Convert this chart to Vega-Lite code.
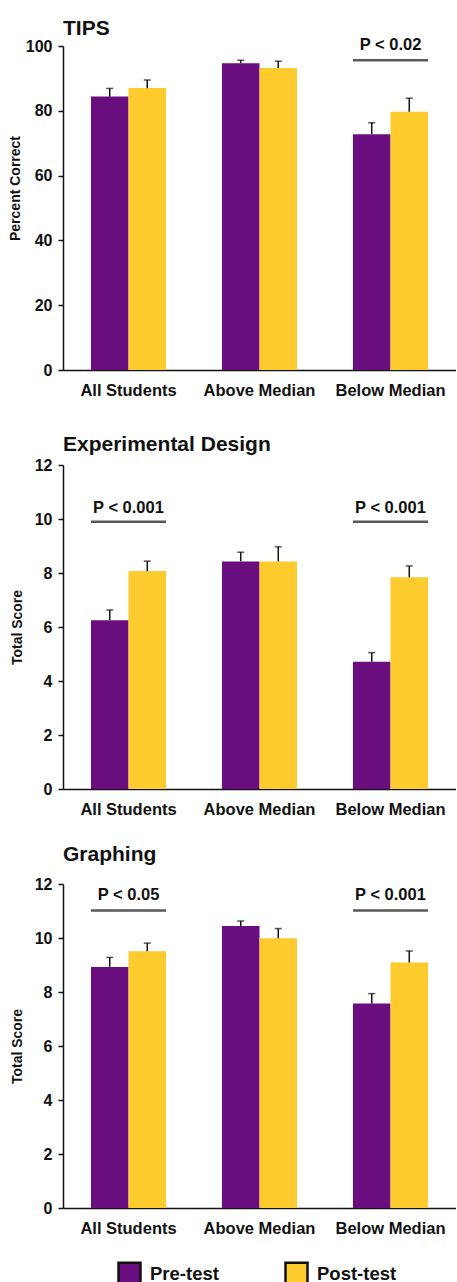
{
  "$schema": "https://vega.github.io/schema/vega-lite/v6.json",
  "padding": {"left": 8, "top": 17, "right": 0, "bottom": 0},
  "bounds": "flush",
  "spacing": 95,
  "datasets": {
    "bars": [
      {"panel": "TIPS", "group": "All Students", "test": "Pre-test", "value": 84.4, "err": 86.9},
      {"panel": "TIPS", "group": "All Students", "test": "Post-test", "value": 87.0, "err": 89.5},
      {"panel": "TIPS", "group": "Above Median", "test": "Pre-test", "value": 94.7, "err": 95.6},
      {"panel": "TIPS", "group": "Above Median", "test": "Post-test", "value": 93.2, "err": 95.3},
      {"panel": "TIPS", "group": "Below Median", "test": "Pre-test", "value": 72.8, "err": 76.3},
      {"panel": "TIPS", "group": "Below Median", "test": "Post-test", "value": 79.7, "err": 83.9},
      {"panel": "ED", "group": "All Students", "test": "Pre-test", "value": 6.25, "err": 6.63},
      {"panel": "ED", "group": "All Students", "test": "Post-test", "value": 8.07, "err": 8.44},
      {"panel": "ED", "group": "Above Median", "test": "Pre-test", "value": 8.43, "err": 8.77},
      {"panel": "ED", "group": "Above Median", "test": "Post-test", "value": 8.43, "err": 8.97},
      {"panel": "ED", "group": "Below Median", "test": "Pre-test", "value": 4.71, "err": 5.05},
      {"panel": "ED", "group": "Below Median", "test": "Post-test", "value": 7.84, "err": 8.26},
      {"panel": "GR", "group": "All Students", "test": "Pre-test", "value": 8.93, "err": 9.28},
      {"panel": "GR", "group": "All Students", "test": "Post-test", "value": 9.51, "err": 9.81},
      {"panel": "GR", "group": "Above Median", "test": "Pre-test", "value": 10.44, "err": 10.63},
      {"panel": "GR", "group": "Above Median", "test": "Post-test", "value": 9.99, "err": 10.35},
      {"panel": "GR", "group": "Below Median", "test": "Pre-test", "value": 7.57, "err": 7.94},
      {"panel": "GR", "group": "Below Median", "test": "Post-test", "value": 9.09, "err": 9.52}
    ],
    "notes": [
      {"panel": "TIPS", "group": "Below Median", "label": "P < 0.02", "yline": 95.6, "ytext": 98.9},
      {"panel": "ED", "group": "All Students", "label": "P < 0.001", "yline": 9.9, "ytext": 10.24},
      {"panel": "ED", "group": "Below Median", "label": "P < 0.001", "yline": 9.9, "ytext": 10.24},
      {"panel": "GR", "group": "All Students", "label": "P < 0.05", "yline": 11.02, "ytext": 11.41},
      {"panel": "GR", "group": "Below Median", "label": "P < 0.001", "yline": 11.02, "ytext": 11.41}
    ]
  },
  "vconcat": [
    {
      "title": {"text": "TIPS", "offset": -2},
      "width": 393, "height": 324,
      "layer": [
        {
          "data": {"name": "bars"},
          "transform": [{"filter": "datum.panel === 'TIPS'"}],
          "mark": {"type": "bar"},
          "encoding": {
            "x": {"field": "group", "type": "nominal", "sort": ["All Students", "Above Median", "Below Median"], "scale": {"paddingInner": 0.427, "paddingOuter": 0.2135}, "axis": {"title": null, "labelAngle": 0, "ticks": false, "labelPadding": 12, "labelFontSize": 16.5}},
            "xOffset": {"field": "test", "type": "nominal", "sort": ["Pre-test", "Post-test"], "scale": {"paddingInner": 0, "paddingOuter": 0}},
            "y": {"field": "value", "type": "quantitative", "scale": {"domain": [0, 100]}, "axis": {"title": "Percent Correct", "values": [0, 20, 40, 60, 80, 100], "titleY": 142, "titleX": -41}},
            "color": {"field": "test", "type": "nominal", "sort": ["Pre-test", "Post-test"], "scale": {"domain": ["Pre-test", "Post-test"], "range": ["#6A0D7E", "#FDCB2E"]}, "legend": {"title": null}}
          }
        },
        {
          "data": {"name": "bars"},
          "transform": [{"filter": "datum.panel === 'TIPS'"}],
          "mark": {"type": "rule", "color": "#111111", "strokeWidth": 1.5},
          "encoding": {
            "x": {"field": "group", "type": "nominal", "sort": ["All Students", "Above Median", "Below Median"]},
            "xOffset": {"field": "test", "type": "nominal", "sort": ["Pre-test", "Post-test"]},
            "y": {"field": "value", "type": "quantitative"},
            "y2": {"field": "err"}
          }
        },
        {
          "data": {"name": "bars"},
          "transform": [{"filter": "datum.panel === 'TIPS'"}],
          "mark": {"type": "tick", "color": "#111111", "thickness": 1.5, "size": 7},
          "encoding": {
            "x": {"field": "group", "type": "nominal", "sort": ["All Students", "Above Median", "Below Median"]},
            "xOffset": {"field": "test", "type": "nominal", "sort": ["Pre-test", "Post-test"]},
            "y": {"field": "err", "type": "quantitative"}
          }
        },
        {
          "data": {"name": "notes"},
          "transform": [{"filter": "datum.panel === 'TIPS'"}],
          "mark": {"type": "tick", "color": "#111111", "thickness": 2.6, "size": 75},
          "encoding": {
            "x": {"field": "group", "type": "nominal", "sort": ["All Students", "Above Median", "Below Median"]},
            "y": {"field": "yline", "type": "quantitative"}
          }
        },
        {
          "data": {"name": "notes"},
          "transform": [{"filter": "datum.panel === 'TIPS'"}],
          "mark": {"type": "text", "fontSize": 16.5, "fontWeight": "bold", "baseline": "alphabetic", "color": "#111111"},
          "encoding": {
            "x": {"field": "group", "type": "nominal", "sort": ["All Students", "Above Median", "Below Median"]},
            "y": {"field": "ytext", "type": "quantitative"},
            "text": {"field": "label"}
          }
        }
      ]
    },
    {
      "title": {"text": "Experimental Design", "offset": 2},
      "width": 393, "height": 324,
      "layer": [
        {
          "data": {"name": "bars"},
          "transform": [{"filter": "datum.panel === 'ED'"}],
          "mark": {"type": "bar"},
          "encoding": {
            "x": {"field": "group", "type": "nominal", "sort": ["All Students", "Above Median", "Below Median"], "scale": {"paddingInner": 0.427, "paddingOuter": 0.2135}, "axis": {"title": null, "labelAngle": 0, "ticks": false, "labelPadding": 12, "labelFontSize": 16.5}},
            "xOffset": {"field": "test", "type": "nominal", "sort": ["Pre-test", "Post-test"], "scale": {"paddingInner": 0, "paddingOuter": 0}},
            "y": {"field": "value", "type": "quantitative", "scale": {"domain": [0, 12]}, "axis": {"title": "Total Score", "values": [0, 2, 4, 6, 8, 10, 12]}},
            "color": {"field": "test", "type": "nominal", "sort": ["Pre-test", "Post-test"], "scale": {"domain": ["Pre-test", "Post-test"], "range": ["#6A0D7E", "#FDCB2E"]}, "legend": {"title": null}}
          }
        },
        {
          "data": {"name": "bars"},
          "transform": [{"filter": "datum.panel === 'ED'"}],
          "mark": {"type": "rule", "color": "#111111", "strokeWidth": 1.5},
          "encoding": {
            "x": {"field": "group", "type": "nominal", "sort": ["All Students", "Above Median", "Below Median"]},
            "xOffset": {"field": "test", "type": "nominal", "sort": ["Pre-test", "Post-test"]},
            "y": {"field": "value", "type": "quantitative"},
            "y2": {"field": "err"}
          }
        },
        {
          "data": {"name": "bars"},
          "transform": [{"filter": "datum.panel === 'ED'"}],
          "mark": {"type": "tick", "color": "#111111", "thickness": 1.5, "size": 7},
          "encoding": {
            "x": {"field": "group", "type": "nominal", "sort": ["All Students", "Above Median", "Below Median"]},
            "xOffset": {"field": "test", "type": "nominal", "sort": ["Pre-test", "Post-test"]},
            "y": {"field": "err", "type": "quantitative"}
          }
        },
        {
          "data": {"name": "notes"},
          "transform": [{"filter": "datum.panel === 'ED'"}],
          "mark": {"type": "tick", "color": "#111111", "thickness": 2.6, "size": 75},
          "encoding": {
            "x": {"field": "group", "type": "nominal", "sort": ["All Students", "Above Median", "Below Median"]},
            "y": {"field": "yline", "type": "quantitative"}
          }
        },
        {
          "data": {"name": "notes"},
          "transform": [{"filter": "datum.panel === 'ED'"}],
          "mark": {"type": "text", "fontSize": 16.5, "fontWeight": "bold", "baseline": "alphabetic", "color": "#111111"},
          "encoding": {
            "x": {"field": "group", "type": "nominal", "sort": ["All Students", "Above Median", "Below Median"]},
            "y": {"field": "ytext", "type": "quantitative"},
            "text": {"field": "label"}
          }
        }
      ]
    },
    {
      "title": {"text": "Graphing", "offset": 11},
      "width": 393, "height": 324,
      "layer": [
        {
          "data": {"name": "bars"},
          "transform": [{"filter": "datum.panel === 'GR'"}],
          "mark": {"type": "bar"},
          "encoding": {
            "x": {"field": "group", "type": "nominal", "sort": ["All Students", "Above Median", "Below Median"], "scale": {"paddingInner": 0.427, "paddingOuter": 0.2135}, "axis": {"title": null, "labelAngle": 0, "ticks": false, "labelPadding": 12, "labelFontSize": 16.5}},
            "xOffset": {"field": "test", "type": "nominal", "sort": ["Pre-test", "Post-test"], "scale": {"paddingInner": 0, "paddingOuter": 0}},
            "y": {"field": "value", "type": "quantitative", "scale": {"domain": [0, 12]}, "axis": {"title": "Total Score", "values": [0, 2, 4, 6, 8, 10, 12]}},
            "color": {"field": "test", "type": "nominal", "sort": ["Pre-test", "Post-test"], "scale": {"domain": ["Pre-test", "Post-test"], "range": ["#6A0D7E", "#FDCB2E"]}, "legend": {"title": null}}
          }
        },
        {
          "data": {"name": "bars"},
          "transform": [{"filter": "datum.panel === 'GR'"}],
          "mark": {"type": "rule", "color": "#111111", "strokeWidth": 1.5},
          "encoding": {
            "x": {"field": "group", "type": "nominal", "sort": ["All Students", "Above Median", "Below Median"]},
            "xOffset": {"field": "test", "type": "nominal", "sort": ["Pre-test", "Post-test"]},
            "y": {"field": "value", "type": "quantitative"},
            "y2": {"field": "err"}
          }
        },
        {
          "data": {"name": "bars"},
          "transform": [{"filter": "datum.panel === 'GR'"}],
          "mark": {"type": "tick", "color": "#111111", "thickness": 1.5, "size": 7},
          "encoding": {
            "x": {"field": "group", "type": "nominal", "sort": ["All Students", "Above Median", "Below Median"]},
            "xOffset": {"field": "test", "type": "nominal", "sort": ["Pre-test", "Post-test"]},
            "y": {"field": "err", "type": "quantitative"}
          }
        },
        {
          "data": {"name": "notes"},
          "transform": [{"filter": "datum.panel === 'GR'"}],
          "mark": {"type": "tick", "color": "#111111", "thickness": 2.6, "size": 75},
          "encoding": {
            "x": {"field": "group", "type": "nominal", "sort": ["All Students", "Above Median", "Below Median"]},
            "y": {"field": "yline", "type": "quantitative"}
          }
        },
        {
          "data": {"name": "notes"},
          "transform": [{"filter": "datum.panel === 'GR'"}],
          "mark": {"type": "text", "fontSize": 16.5, "fontWeight": "bold", "baseline": "alphabetic", "color": "#111111"},
          "encoding": {
            "x": {"field": "group", "type": "nominal", "sort": ["All Students", "Above Median", "Below Median"]},
            "y": {"field": "ytext", "type": "quantitative"},
            "text": {"field": "label"}
          }
        }
      ]
    }
  ],
  "resolve": {"scale": {"y": "independent", "x": "independent", "color": "shared"}},
  "config": {
    "font": "Liberation Sans",
    "view": {"stroke": null},
    "title": {"fontSize": 21, "fontWeight": "bold", "anchor": "start", "frame": "group", "color": "#111111"},
    "axis": {
      "domainColor": "#111111", "domainWidth": 1.5, "tickColor": "#111111", "tickWidth": 1.5, "tickSize": 5,
      "labelColor": "#111111", "labelFont": "Liberation Sans", "labelFontWeight": "bold", "labelFontSize": 16, "labelPadding": 6,
      "titleColor": "#111111", "titleFontWeight": "bold", "titleFontSize": 14, "titlePadding": 10, "grid": false
    },
    "legend": {
      "orient": "none", "legendX": 54, "legendY": 1215, "direction": "horizontal",
      "symbolType": "square", "symbolSize": 484, "symbolStrokeColor": "#111111", "symbolStrokeWidth": 2.5, "symbolOpacity": 1,
      "labelFontSize": 18.5, "labelFontWeight": "bold", "labelColor": "#111111", "labelOffset": 8, "columnPadding": 61, "padding": 0
    }
  }
}
